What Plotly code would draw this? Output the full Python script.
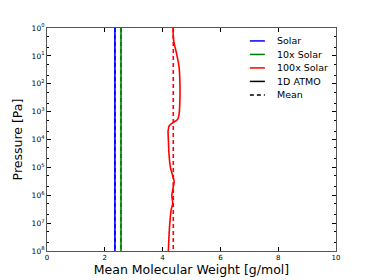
import plotly.graph_objects as go

# pressure grid (log10 Pa) and profiles
log_p = [0, 0.3, 0.55, 0.9, 1.4, 2.0, 2.5, 3.0, 3.2, 3.3, 3.4, 3.5, 3.7, 4.0, 4.5, 5.0, 5.3, 5.5, 5.7, 6.0, 6.3, 6.5, 7.0, 7.5, 8.0]
mmw_100x = [4.36, 4.37, 4.40, 4.48, 4.57, 4.60, 4.60, 4.58, 4.55, 4.50, 4.35, 4.23, 4.19, 4.20, 4.22, 4.27, 4.35, 4.40, 4.37, 4.32, 4.35, 4.30, 4.25, 4.22, 4.20]
mean_solar = 2.35
mean_10x = 2.56
mean_100x = 4.37

legend_names = ["Solar", "10x Solar", "100x Solar", "1D ATMO", "Mean"]
legend_colors = ["#0000ff", "#008000", "#ff0000", "#000000", "#000000"]
legend_dashes = ["solid", "solid", "solid", "solid", "dash"]

x_ticks = [0, 2, 4, 6, 8, 10]
y_exps = list(range(0, 9))

pressure = [10 ** v for v in log_p]
p_ends = [1, 1e8]
DASH = "4px,3px"

fig = go.Figure()
fig.add_trace(go.Scatter(x=[mean_solar] * 2, y=p_ends, mode="lines", line=dict(color="#0000ff", width=1.6), showlegend=False))
fig.add_trace(go.Scatter(x=[mean_solar] * 2, y=p_ends, mode="lines", line=dict(color="#0000ff", width=1.6, dash=DASH), showlegend=False))
fig.add_trace(go.Scatter(x=[mean_10x] * 2, y=p_ends, mode="lines", line=dict(color="#008000", width=1.6), showlegend=False))
fig.add_trace(go.Scatter(x=[mean_10x] * 2, y=p_ends, mode="lines", line=dict(color="#008000", width=1.6, dash=DASH), showlegend=False))
fig.add_trace(go.Scatter(x=mmw_100x, y=pressure, mode="lines", line=dict(color="#ff0000", width=1.6, shape="spline", smoothing=0.8), showlegend=False))
fig.add_trace(go.Scatter(x=[mean_100x] * 2, y=p_ends, mode="lines", line=dict(color="#ff0000", width=1.6, dash=DASH), showlegend=False))

# hand-built legend (matplotlib-like compact spacing)
leg_x0, leg_x1, leg_tx = 0.702, 0.754, 0.789
leg_y0, leg_dy = 0.942, 0.0605
for i, (name, col, dash) in enumerate(zip(legend_names, legend_colors, legend_dashes)):
    yy = leg_y0 - i * leg_dy
    fig.add_shape(type="line", xref="paper", yref="paper", x0=leg_x0, x1=leg_x1, y0=yy, y1=yy,
                  line=dict(color=col, width=1.5, dash=DASH if dash == "dash" else "solid"))
    fig.add_annotation(xref="paper", yref="paper", x=leg_tx, y=yy, text=name, showarrow=False,
                       xanchor="left", yanchor="middle", font=dict(size=9.5, color="black"))

fig.update_layout(
    width=366, height=272,
    margin=dict(l=39, r=38, t=20, b=29),
    paper_bgcolor="white", plot_bgcolor="white",
    font=dict(family="DejaVu Sans", color="black"),
    showlegend=False,
    xaxis=dict(range=[0, 10], tickvals=x_ticks, ticktext=[str(v) for v in x_ticks],
               ticks="inside", ticklen=4, tickcolor="black", mirror="allticks",
               showline=True, linecolor="#555", linewidth=1, showgrid=False, zeroline=False,
               tickfont=dict(size=7), automargin=False,
               title=dict(text="Mean Molecular Weight [g/mol]", font=dict(size=12.5), standoff=2)),
    yaxis=dict(type="log", range=[8, 0], tickvals=[10 ** e for e in y_exps],
               ticktext=["10<sup>%d</sup>" % e for e in y_exps],
               ticks="inside", ticklen=4, tickcolor="black", mirror="allticks",
               showline=True, linecolor="#555", linewidth=1, showgrid=False, zeroline=False,
               tickfont=dict(size=7.5), automargin=False,
               minor=dict(ticks="inside", ticklen=2, tickcolor="black", showgrid=False),
               title=dict(text="Pressure [Pa]", font=dict(size=12.5), standoff=6)),
)

fig.write_html("out.html")
